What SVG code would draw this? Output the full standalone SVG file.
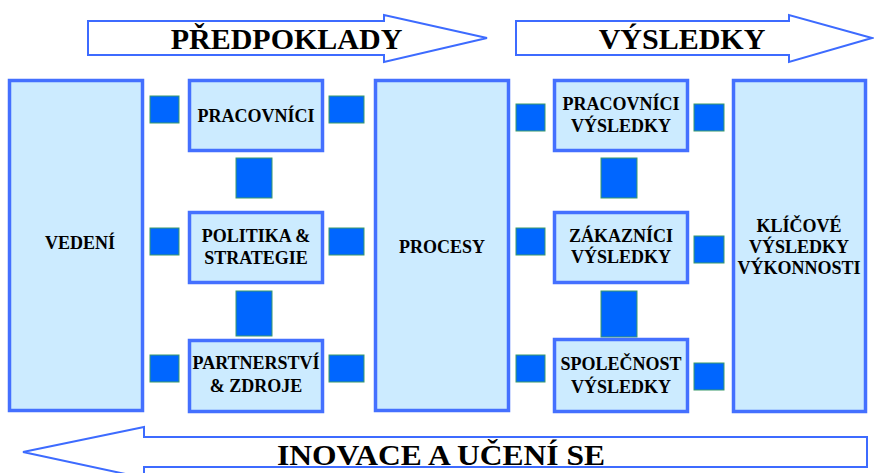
<svg xmlns="http://www.w3.org/2000/svg" width="874" height="473" viewBox="0 0 874 473">
<style>
.box{fill:#CCEBFF;stroke:#4470FF;stroke-width:3.5}
.sq{fill:#0066FF;stroke:#3A9A6A;stroke-width:1}
.arr{fill:#FFFFFF;stroke:#3D6BFF;stroke-width:2}
text{font-family:"Liberation Serif","Times New Roman",serif;font-weight:bold;fill:#000;text-anchor:middle}
.t{font-size:18px}
.big{font-size:30px}
</style>
<rect width="874" height="473" fill="#FFFFFF"/>
<g id="arrow-predpoklady">
<polygon class="arr" points="88,21 384,21 384,15 487,38 384,62 384,55 88,55"/>
<text class="big" x="286.5" y="49">PŘEDPOKLADY</text>
</g>
<g id="arrow-vysledky">
<polygon class="arr" points="516,21 789,21 789,15 872,38 789,62 789,55 516,55"/>
<text class="big" x="682" y="49">VÝSLEDKY</text>
</g>
<g id="arrow-inovace">
<polygon class="arr" points="23,452 144,427 144,437 867,437 867,467 144,467 144,478"/>
<text class="big" x="441" y="465" textLength="328" lengthAdjust="spacingAndGlyphs">INOVACE A UČENÍ SE</text>
</g>
<g id="connectors">
<rect class="sq" x="150" y="96" width="29" height="27"/>
<rect class="sq" x="150" y="228" width="29" height="27"/>
<rect class="sq" x="150" y="355" width="29" height="27"/>
<rect class="sq" x="329" y="96" width="35" height="27"/>
<rect class="sq" x="329" y="228" width="35" height="27"/>
<rect class="sq" x="329" y="355" width="35" height="27"/>
<rect class="sq" x="236" y="158" width="36" height="40"/>
<rect class="sq" x="236" y="291" width="36" height="45"/>
<rect class="sq" x="516" y="104" width="29" height="27"/>
<rect class="sq" x="516" y="228" width="29" height="27"/>
<rect class="sq" x="516" y="355" width="29" height="27"/>
<rect class="sq" x="694" y="104" width="30" height="27"/>
<rect class="sq" x="694" y="236" width="30" height="27"/>
<rect class="sq" x="694" y="363" width="30" height="27"/>
<rect class="sq" x="601" y="158" width="36" height="40"/>
<rect class="sq" x="601" y="291" width="36" height="46"/>
</g>
<g id="vedeni">
<rect class="box" x="9.5" y="80.5" width="133" height="330"/>
<text class="t" x="80" y="249">VEDENÍ</text>
</g>
<g id="pracovnici">
<rect class="box" x="189.5" y="80.5" width="133" height="70"/>
<text class="t" x="256" y="122">PRACOVNÍCI</text>
</g>
<g id="politika">
<rect class="box" x="189.5" y="212.5" width="133" height="70"/>
<text class="t" x="256" y="242">POLITIKA &amp;</text>
<text class="t" x="256" y="264">STRATEGIE</text>
</g>
<g id="partnerstvi">
<rect class="box" x="189.5" y="340.5" width="133" height="71"/>
<text class="t" x="256" y="369">PARTNERSTVÍ</text>
<text class="t" x="256" y="392">&amp; ZDROJE</text>
</g>
<g id="procesy">
<rect class="box" x="375.5" y="80.5" width="133" height="330"/>
<text class="t" x="442" y="253">PROCESY</text>
</g>
<g id="pracovnici-vysledky">
<rect class="box" x="554.5" y="80.5" width="133" height="70"/>
<text class="t" x="621" y="110">PRACOVNÍCI</text>
<text class="t" x="621" y="132">VÝSLEDKY</text>
</g>
<g id="zakaznici-vysledky">
<rect class="box" x="554.5" y="212.5" width="133" height="70"/>
<text class="t" x="621" y="242">ZÁKAZNÍCI</text>
<text class="t" x="621" y="263">VÝSLEDKY</text>
</g>
<g id="spolecnost-vysledky">
<rect class="box" x="554.5" y="339.5" width="133" height="72"/>
<text class="t" x="621" y="370">SPOLEČNOST</text>
<text class="t" x="621" y="393">VÝSLEDKY</text>
</g>
<g id="klicove-vysledky">
<rect class="box" x="733.5" y="80.5" width="132" height="331"/>
<text class="t" x="799" y="232">KLÍČOVÉ</text>
<text class="t" x="799" y="253">VÝSLEDKY</text>
<text class="t" x="799" y="274">VÝKONNOSTI</text>
</g>
</svg>
